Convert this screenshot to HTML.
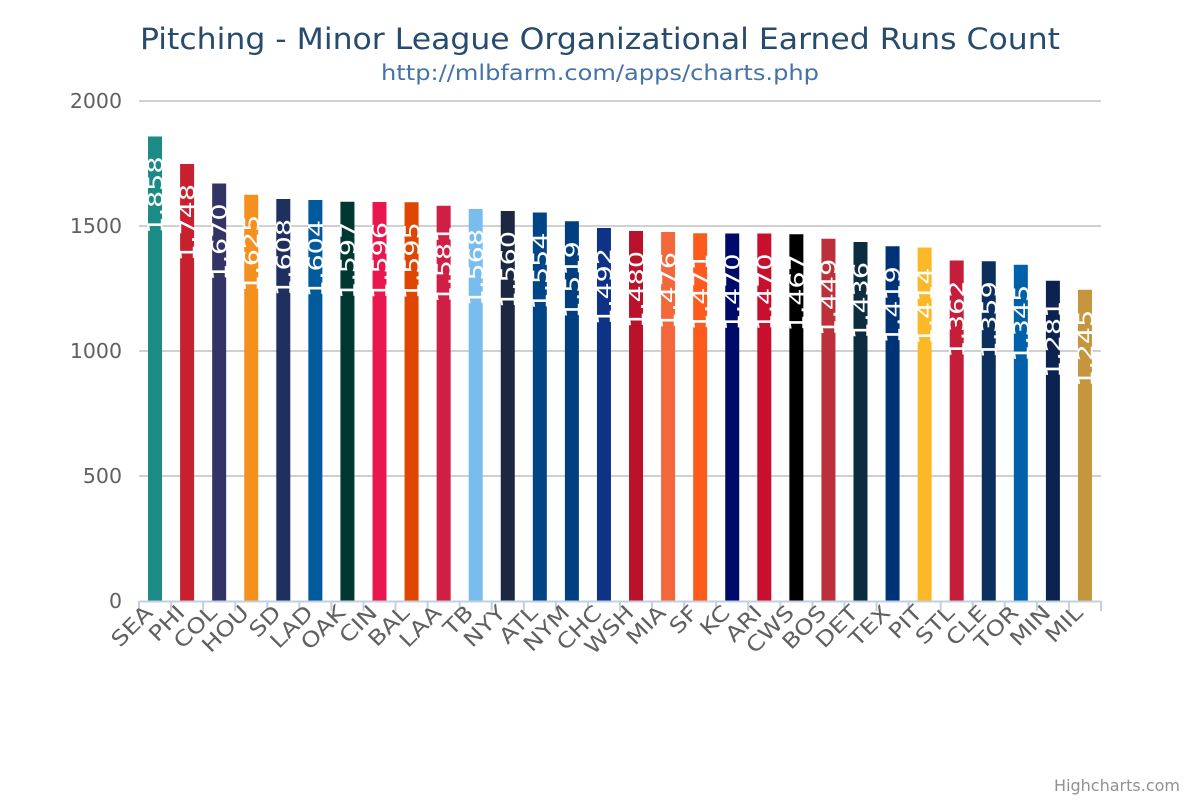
<!DOCTYPE html>
<html><head><meta charset="utf-8"><style>
html,body{margin:0;padding:0;background:#fff;}
svg{display:block;font-family:"DejaVu Sans","Liberation Sans",sans-serif;}
</style></head><body>
<svg id="c" width="1200" height="800" xmlns="http://www.w3.org/2000/svg">
<rect width="1200" height="800" fill="#fff"/>
<text x="600" y="49" text-anchor="middle" font-size="29" fill="#274b6d" textLength="920" lengthAdjust="spacingAndGlyphs">Pitching - Minor League Organizational Earned Runs Count</text>
<text x="600" y="80" text-anchor="middle" font-size="21" fill="#4572a7" textLength="438" lengthAdjust="spacingAndGlyphs">http://mlbfarm.com/apps/charts.php</text>
<g stroke="#c0c0c0" stroke-width="1.5">
<line x1="139" x2="1101" y1="101" y2="101"/>
<line x1="139" x2="1101" y1="226" y2="226"/>
<line x1="139" x2="1101" y1="351" y2="351"/>
<line x1="139" x2="1101" y1="476" y2="476"/>
</g>
<g font-size="20.5" fill="#606060" text-anchor="end">
<text x="122" y="108">2000</text>
<text x="122" y="233">1500</text>
<text x="122" y="358">1000</text>
<text x="122" y="483">500</text>
<text x="122" y="608">0</text>
</g>
<g id="bars"></g>
<line x1="139" x2="1101" y1="601.5" y2="601.5" stroke="#c0d0e0" stroke-width="2"/>
<g id="ticks" stroke="#c0d0e0" stroke-width="2"></g>
<g id="xl" font-size="21" fill="#606060" text-anchor="end"></g>
<text x="1180" y="791" text-anchor="end" font-size="16" fill="#909090">Highcharts.com</text>
</svg>
<script>
var d=[["SEA",1858,"#1c8b85"],["PHI",1748,"#c8202f"],["COL",1670,"#333366"],["HOU",1625,"#f4911e"],["SD",1608,"#1f2f5e"],["LAD",1604,"#005a9c"],["OAK",1597,"#003831"],["CIN",1596,"#e8174f"],["BAL",1595,"#df4601"],["LAA",1581,"#d01f44"],["TB",1568,"#79bdee"],["NYY",1560,"#1c2841"],["ATL",1554,"#004687"],["NYM",1519,"#003f7f"],["CHC",1492,"#0e3386"],["WSH",1480,"#ba122b"],["MIA",1476,"#f3683a"],["SF",1471,"#fd5a1e"],["KC",1470,"#000a6a"],["ARI",1470,"#c8102e"],["CWS",1467,"#000000"],["BOS",1449,"#bd3039"],["DET",1436,"#0c2c40"],["TEX",1419,"#003278"],["PIT",1414,"#fdb827"],["STL",1362,"#c41e3a"],["CLE",1359,"#0c2f5e"],["TOR",1345,"#0061aa"],["MIN",1281,"#0c2352"],["MIL",1245,"#c5963d"]];
var ns="http://www.w3.org/2000/svg",w=962/30,B=document.getElementById("bars"),T=document.getElementById("ticks"),X=document.getElementById("xl");
function el(t,a,p,tx){var e=document.createElementNS(ns,t);for(var k in a)e.setAttribute(k,a[k]);if(tx)e.textContent=tx;p.appendChild(e);return e;}
for(var i=0;i<=30;i++){var tx=139+i*w;el("line",{x1:tx,x2:tx,y1:601,y2:611},T);}
d.forEach(function(r,i){var cx=139+w*(i+0.5),top=601-r[1]*0.25;
el("rect",{x:cx-7,y:top,width:14,height:601-top,fill:r[2]},B);
var s=r[1].toString().replace(/(\d)(\d{3})$/,"$1,$2");
el("text",{x:0,y:0,"font-size":20,fill:"#fff","text-anchor":"end",transform:"translate("+(cx+7.5)+","+(top+20)+") rotate(-90) scale(1.35,1)"},B,s);
el("text",{x:0,y:0,transform:"translate("+(cx-1)+",614) rotate(-45) scale(1.18,1)"},X,r[0]);
});
</script>
</body></html>
